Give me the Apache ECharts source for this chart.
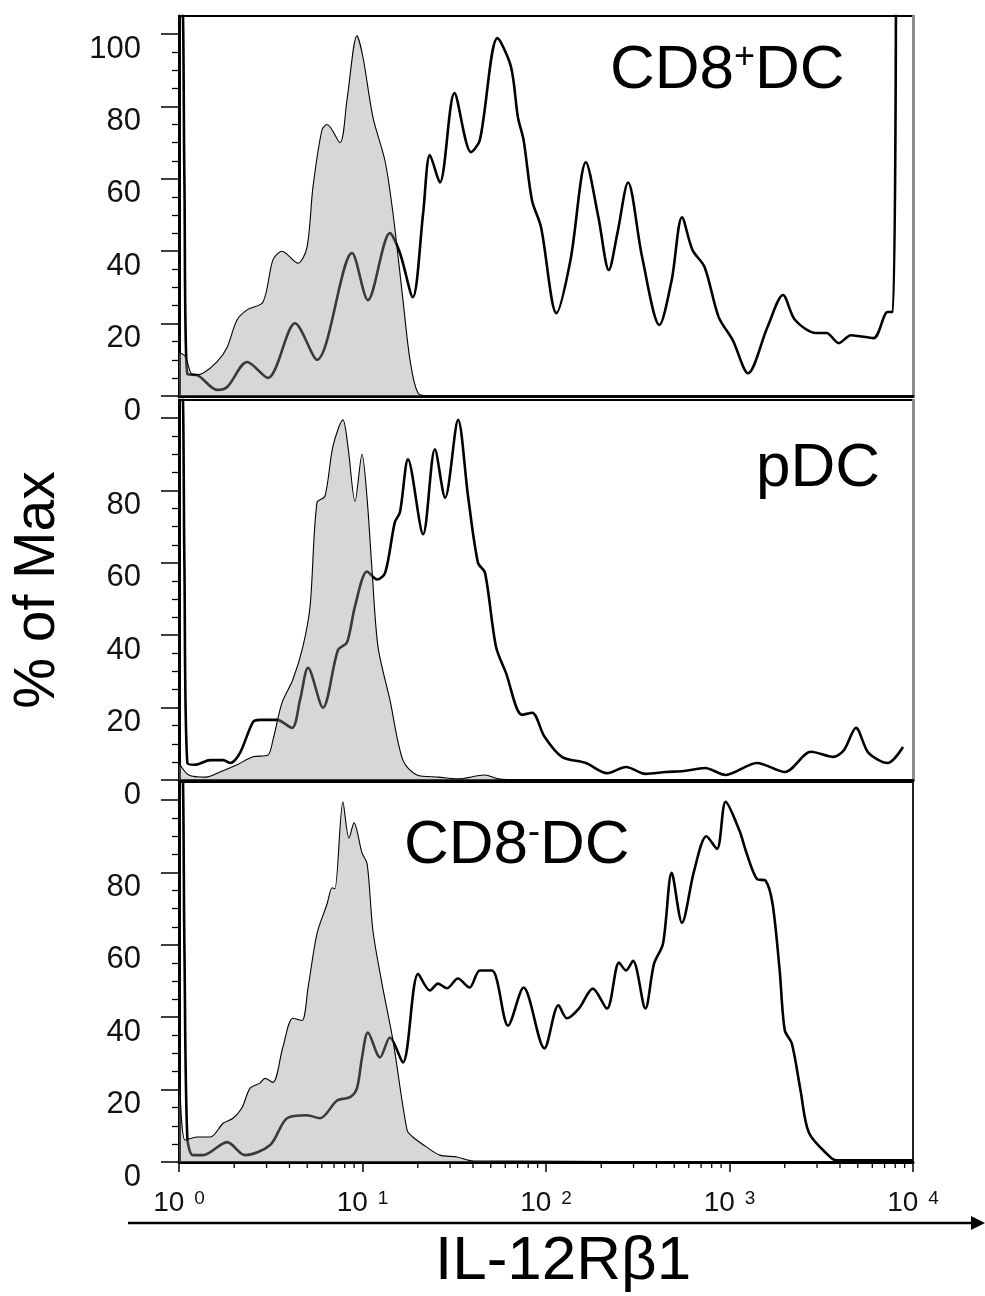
<!DOCTYPE html>
<html><head><meta charset="utf-8">
<script src="https://cdn.jsdelivr.net/npm/echarts@6/dist/echarts.min.js"></script>
<style>html,body{margin:0;padding:0;background:#fff}#c{width:985px;height:1296px}</style>
</head><body><div id="c"></div>
<script>
// ---------- tick definitions ----------
const xMajorTicks = [1, 10, 100, 1000, 10000];
const xMinorTicks = [2,3,4,5,6,7,8,9,20,30,40,50,60,70,80,90,200,300,400,500,600,700,800,900,2000,3000,4000,5000,6000,7000,8000,9000];
const yMajorTicks = [0, 20, 40, 60, 80, 100];
const yLabelsTop = [0, 20, 40, 60, 80, 100];
const yLabelsLower = [0, 20, 40, 60, 80];
const yMinorTicks = [5,10,15,25,30,35,45,50,55,65,70,75,85,90,95];
const panelNames = ['CD8+DC', 'pDC', 'CD8-DC'];
const xAxisTitle = 'IL-12Rβ1';
const yAxisTitle = '% of Max';

// ---------- data: [intensity, % of max] ----------
const cd8PosStained = [[1,110],[1.04,110],[1.07,60],[1.11,6],[1.25,5.8],[1.61,1.7],[1.83,2.5],[2.35,9.4],[3.05,5],[4.29,20.1],[5.65,10],[8.77,39.5],[10.7,26.5],[14.1,45],[16,39.5],[18.8,27.3],[21.4,50.5],[23.3,66.6],[26.4,59],[31.7,83.7],[39,67.4],[43.6,70.7],[54.4,98.9],[64.4,91],[70.3,77],[75.5,70.7],[83.9,54],[93.9,46.7],[114,22.9],[136,37.6],[165,64.6],[193,49.4],[220,34.8],[245,45],[280,59],[334,38.4],[415,19.6],[484,32],[551,49.4],[629,40.3],[732,35.6],[873,21.8],[1040,15.5],[1262,6.3],[1609,19],[1957,27.9],[2276,21],[2961,17.4],[3381,17.4],[3941,14.6],[4592,16.8],[6097,16],[7272,23.2],[7762,23.2],[8075,110]];
const cd8PosIsotype = [[1,12],[1.08,11],[1.19,5.8],[1.35,6.3],[1.61,9.4],[1.83,13.5],[2.07,21],[2.35,23.8],[2.87,26],[3.25,37.6],[3.64,40],[4.45,36.7],[4.98,41],[5.37,57.7],[6.01,73.5],[6.41,75],[7.54,70],[8.23,81.8],[9.33,99.5],[10.06,93.6],[11.4,77],[13.26,65],[14.66,50.5],[16.62,26.5],[18.15,10],[20.07,0.8],[23.3,0],[10000,0]];

const pdcStained = [[1,110],[1.04,110],[1.07,60],[1.11,4.7],[1.22,4.2],[1.48,5.5],[1.74,5.5],[1.9,4.7],[2.15,7.5],[2.53,16],[2.76,16.6],[3.42,16.6],[4.13,14.4],[4.57,22.2],[5.05,31],[6.09,20],[7.36,36],[8.23,38],[9.1,48],[10.6,57.6],[12,55.4],[13.3,57.3],[15,71.2],[16,74],[17.7,88.6],[21.4,67.9],[24.8,91.4],[28.2,78],[33.2,99.5],[37.6,78.4],[42.6,60],[46.5,57.3],[53.4,36.8],[60.5,29.6],[74,18],[84,18.6],[98,12],[122,6.4],[165,4.7],[215,1.9],[273,3.6],[348,1.7],[451,2.2],[565,2.5],[735,3.3],[953,1.4],[1412,4.7],[2007,2.2],[2780,7.8],[3690,6.4],[4210,8.3],[4890,14.4],[5720,7.5],[7272,4.7],[8822,9.1]];
const pdcIsotype = [[1,4.7],[1.13,1.4],[1.4,0.8],[1.67,2.2],[2.07,4.2],[2.53,6.4],[3.05,6.9],[3.25,11],[3.64,21.3],[4.17,27.7],[4.73,36.8],[5.18,48],[5.65,76.7],[6.24,78.4],[6.9,92.2],[7.82,99.5],[8.33,92.2],[9.1,77],[9.94,90],[10.6,77.6],[11.27,58],[12.15,36.8],[14.1,22.2],[16.6,5.5],[19.8,1.4],[26,0.8],[33,0.3],[46.5,1.4],[55,0.3],[70,0],[10000,0]];

const cd8NegStained = [[1,110],[1.04,110],[1.07,60],[1.11,6.6],[1.19,1.9],[1.35,1.9],[1.83,5.5],[2.29,1.9],[3.14,4.7],[3.88,12.1],[4.98,12.9],[5.87,12.1],[7.27,17],[8.55,17.9],[9.33,20.4],[9.94,28.9],[10.7,35.8],[12.45,28.9],[14.1,34.4],[16.6,27.5],[20.1,52],[23.3,47.4],[25.8,49.3],[28.9,48],[33.1,50.7],[38.3,48.2],[43.6,52.9],[50.8,52.9],[62.1,37.7],[75.5,48.2],[98,31.4],[117,43.3],[130,39.7],[151,42.4],[180,47.9],[215,42.4],[250,55.1],[273,52.9],[298,55.6],[348,42.4],[388,54.8],[434,60.3],[484,79.9],[551,66.1],[641,80.4],[749,90],[855,86.5],[953,99.5],[1134,91.5],[1238,85.4],[1412,78.2],[1574,77.7],[1717,71.3],[1877,52.9],[2001,36.4],[2185,32.8],[2438,19.8],[2713,8],[3529,1.4],[3800,0.5],[10000,0.5]];
const cd8NegIsotype = [[1,30],[1.08,6],[1.25,6.9],[1.48,6.9],[1.74,10.7],[1.97,12.1],[2.2,14.9],[2.44,20.4],[2.76,21.8],[2.94,23.1],[3.25,22],[3.68,31.7],[4.17,39.7],[4.68,39.1],[5.05,48.2],[5.65,63.1],[6.41,71.3],[6.83,75.8],[7.07,75.5],[7.82,99.5],[8.44,89.5],[8.99,93.7],[9.94,85.4],[10.6,82.4],[11.4,63.9],[12.77,49.3],[14.66,33.6],[17.5,8.8],[18.8,6.9],[22.4,4.1],[26.4,1.9],[32.7,1.4],[40,0.3],[10000,0]];

const stained = [cd8PosStained, pdcStained, cd8NegStained];
const isotype = [cd8PosIsotype, pdcIsotype, cd8NegIsotype];

// ---------- layout ----------
const FONT = 'Liberation Sans, Arial, Helvetica, sans-serif';
const gridTops = [16, 400, 782];
const grids = gridTops.map(t => ({left: 179, width: 734, top: t, height: 380, show: true, borderColor: '#000', borderWidth: 2}));

const xAxes = [], yAxes = [], series = [];
for (let i = 0; i < 3; i++) {
  const isBottom = i === 2;
  xAxes.push({
    type: 'log', logBase: 10, gridIndex: i, min: 1, max: 10000,
    axisLine: {show: true, onZero: false, lineStyle: {color: '#000', width: 3}},
    axisTick: {show: isBottom, length: 10, lineStyle: {color: '#000', width: 1.5}},
    axisLabel: {
      show: isBottom, margin: 27, color: '#111', fontFamily: FONT,
      formatter: v => '{b|10}{s|' + Math.round(Math.log10(v)) + '}',
      rich: {b: {fontSize: 28, fontFamily: FONT, color: '#111'},
             s: {fontSize: 19, fontFamily: FONT, color: '#111', verticalAlign: 'top', padding: [0, 0, 0, 10]}}
    },
    splitLine: {show: false}, minorTick: {show: false}
  });
  const base = yAxes.length;
  yAxes.push({
    type: 'value', gridIndex: i, position: 'left', min: 0, max: 105,
    name: i === 1 ? yAxisTitle : '', nameLocation: 'middle', nameRotate: 90, nameGap: 112,
    nameTextStyle: {fontSize: 57, fontFamily: FONT, color: '#000'},
    axisLine: {show: true, onZero: false, lineStyle: {color: '#000', width: 3}},
    axisTick: {show: true, customValues: yMajorTicks, length: 18, lineStyle: {color: '#000', width: 1.5}},
    axisLabel: {customValues: i === 0 ? yLabelsTop : yLabelsLower, fontSize: 31, fontFamily: FONT, color: '#111',
                margin: 38, verticalAlign: 'top', lineHeight: 30},
    splitLine: {show: false}
  });
  yAxes.push({
    type: 'value', gridIndex: i, position: 'left', min: 0, max: 105,
    axisLine: {show: false},
    axisTick: {show: true, customValues: yMinorTicks, length: 7, lineStyle: {color: '#000', width: 1.3}},
    axisLabel: {show: false}, splitLine: {show: false}
  });
  yAxes.push({
    type: 'value', gridIndex: i, position: 'right', min: 0, max: 105,
    axisLine: {show: true, onZero: false, lineStyle: {color: isBottom ? '#222' : '#8c8c8c', width: isBottom ? 2 : 3}},
    axisTick: {show: false}, axisLabel: {show: false}, splitLine: {show: false}
  });
  series.push({
    type: 'line', xAxisIndex: i, yAxisIndex: base, data: stained[i], showSymbol: false, smooth: 0.3,
    lineStyle: {color: '#000', width: 2.6}, z: 2, silent: true
  });
  series.push({
    type: 'line', xAxisIndex: i, yAxisIndex: base, data: isotype[i], showSymbol: false, smooth: 0.3,
    lineStyle: {color: '#000', width: 1.1},
    areaStyle: {color: 'rgba(150,150,150,0.55)'}, z: 3, silent: true
  });
}
// minor log ticks on bottom x axis (placed through the axis scale)
series.push({
  type: 'custom', xAxisIndex: 2, yAxisIndex: 6, silent: true, z: 5,
  data: xMinorTicks.map(v => [v, 0]),
  renderItem: (params, api) => {
    const p = api.coord([api.value(0), 0]);
    return {type: 'line', shape: {x1: p[0], y1: p[1], x2: p[0], y2: p[1] + 6}, style: {stroke: '#000', lineWidth: 1.3}};
  }
});

const labelRich = {
  a: {fontSize: 62, fontFamily: FONT, color: '#000', fontWeight: 'normal'},
  s: {fontSize: 36, fontFamily: FONT, color: '#000', fontWeight: 'normal', verticalAlign: 'top'}
};
const titles = [
  {text: '{a|CD8}{s|+}{a|DC}', left: 605, top: 35, textStyle: {rich: labelRich, fontWeight: 'normal'}},
  {text: '{a|pDC}', left: 751, top: 433, textStyle: {rich: labelRich, fontWeight: 'normal'}},
  {text: '{a|CD8}{s|-}{a|DC}', left: 399, top: 810, textStyle: {rich: labelRich, fontWeight: 'normal'}},
  {text: xAxisTitle, left: 430, top: 1226, textStyle: {fontSize: 62, fontFamily: FONT, color: '#000', fontWeight: 'normal'}}
];

const chart = echarts.init(document.getElementById('c'), null, {renderer: 'canvas'});
chart.setOption({
  animation: false,
  backgroundColor: '#fff',
  title: titles,
  grid: grids,
  xAxis: xAxes,
  yAxis: yAxes,
  series: series,
  graphic: [
    {type: 'line', shape: {x1: 128, y1: 1223, x2: 976, y2: 1223}, style: {stroke: '#000', lineWidth: 2.5}},
    {type: 'polygon', shape: {points: [[971, 1216], [985, 1223], [971, 1230]]}, style: {fill: '#000'}}
  ]
});
</script></body></html>
